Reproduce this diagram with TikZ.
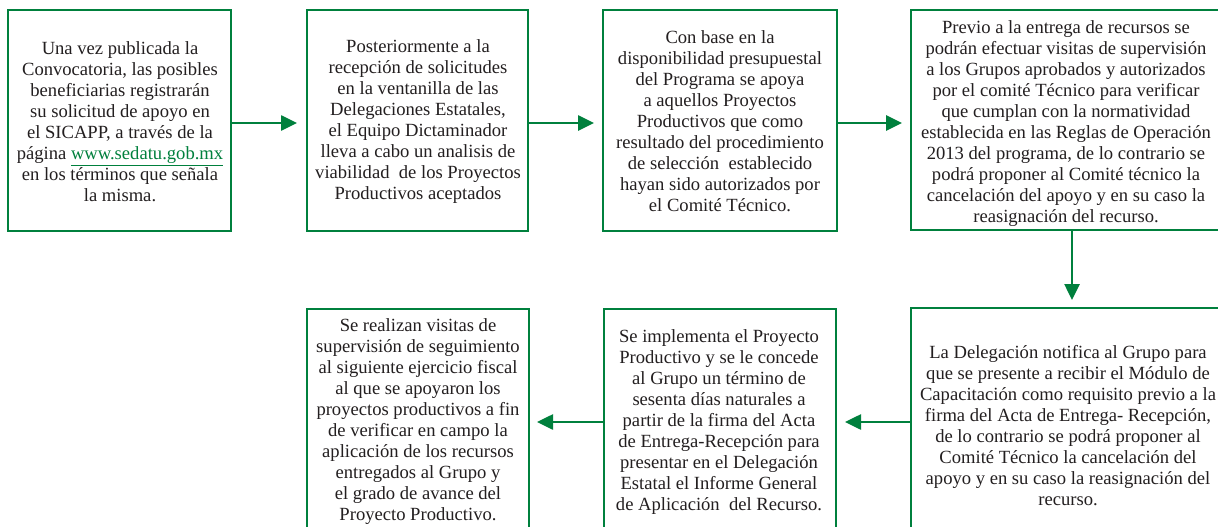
\documentclass[tikz,border=0pt]{standalone}
\usepackage{fontspec}
\setmainfont{Liberation Serif}
\usetikzlibrary{arrows.meta}
\definecolor{gr}{RGB}{0,128,61}
\definecolor{tx}{RGB}{35,31,32}
\begin{document}
\begin{tikzpicture}[x=1pt,y=-1pt,
  box/.style={draw=gr, line width=2pt, inner sep=0pt, outer sep=0pt},
  txt/.style={text=tx, align=center, inner sep=0pt, font=\fontsize{18.6}{21}\selectfont},
  arr/.style={draw=gr, line width=2.6pt, -{Triangle[length=16pt,width=15pt]}}]
\useasboundingbox (0,0) rectangle (1218,527);
\clip (0,0) rectangle (1218,527);
\fill[white] (0,0) rectangle (1218,527);
% boxes
\node[box, minimum width=223pt, minimum height=221pt] (b1) at (119.5,120.5) {};
\node[box, minimum width=221pt, minimum height=221pt] (b2) at (417.5,120.5) {};
\node[box, minimum width=234pt, minimum height=221pt] (b3) at (720,120.5) {};
\node[box, minimum width=322pt, minimum height=220pt] (b4) at (1072,120) {};
\node[box, minimum width=322pt, minimum height=228pt] (b7) at (1072,422) {};
\node[box, minimum width=232pt, minimum height=226pt] (b6) at (720,422) {};
\node[box, minimum width=222pt, minimum height=226pt] (b5) at (418,422) {};
% texts
\node[txt] (t1) at (120,122) {Una vez publicada la\\Convocatoria, las posibles\\beneficiarias registrarán\\su solicitud de apoyo en\\el SICAPP, a través de la\\página \textcolor{gr}{\underline{www.sedatu.gob.mx}}\\en los términos que señala\\la misma.};
\node[txt] (t2) at (418,122) {Posteriormente a la\\recepción de solicitudes\\en la ventanilla de las\\Delegaciones Estatales,\\el Equipo Dictaminador\\lleva a cabo un analisis de\\viabilidad\ \ de los Proyectos\\Productivos aceptados};
\node[txt] (t3) at (720,121) {Con base en la\\disponibilidad presupuestal\\del Programa se apoya\\a aquellos Proyectos\\Productivos que como\\resultado del procedimiento\\de selección\ \ establecido\\hayan sido autorizados por\\el Comité Técnico.};
\node[txt] (t4) at (1066,124) {Previo a la entrega de recursos se\\podrán efectuar visitas de supervisión\\a los Grupos aprobados y autorizados\\por el comité Técnico para verificar\\que cumplan con la normatividad\\establecida en las Reglas de Operación\\2013 del programa, de lo contrario se\\podrá proponer al Comité técnico la\\cancelación del apoyo y en su caso la\\reasignación del recurso.};
\node[txt] (t7) at (1068,426) {La Delegación notifica al Grupo para\\que se presente a recibir el Módulo de\\Capacitación como requisito previo a la\\firma del Acta de Entrega- Recepción,\\de lo contrario se podrá proponer al\\Comité Técnico la cancelación del\\apoyo y en su caso la reasignación del\\recurso.};
\node[txt] (t6) at (719,422) {Se implementa el Proyecto\\Productivo y se le concede\\al Grupo un término de\\sesenta días naturales a\\partir de la firma del Acta\\de Entrega-Recepción para\\presentar en el Delegación\\Estatal el Informe General\\de Aplicación\ \ del Recurso.};
\node[txt] (t5) at (418,422) {Se realizan visitas de\\supervisión de seguimiento\\al siguiente ejercicio fiscal\\al que se apoyaron los\\proyectos productivos a fin\\de verificar en campo la\\aplicación de los recursos\\entregados al Grupo y\\el grado de avance del\\Proyecto Productivo.};
% arrows
\draw[arr, shorten >=10pt] ([yshift=-2.5pt]b1.east) -- ([yshift=-2.5pt]b2.west);
\draw[arr, shorten >=9pt] ([yshift=-2.5pt]b2.east) -- ([yshift=-2.5pt]b3.west);
\draw[arr, shorten >=9pt] ([yshift=-2.5pt]b3.east) -- ([yshift=-2.5pt]b3.east -| b4.west);
\draw[arr, shorten >=8pt] (b4.south) -- (b7.north);
\draw[arr, shorten >=9pt] (b7.west) -- (b7.west -| b6.east);
\draw[arr, shorten >=8pt] (b6.west) -- (b5.east);
\end{tikzpicture}
\end{document}
